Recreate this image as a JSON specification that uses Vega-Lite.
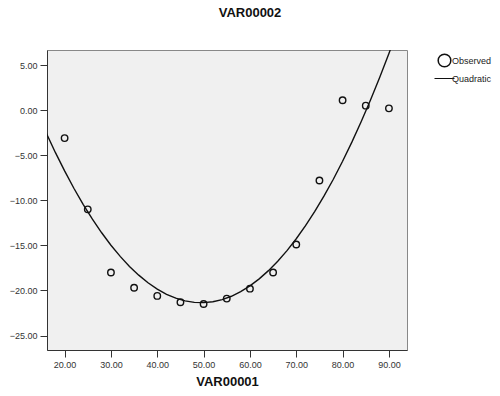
{
  "$schema": "https://vega.github.io/schema/vega-lite/v6.json",
  "width": 360,
  "height": 300,
  "autosize": {"type": "none"},
  "padding": {"left": 47, "top": 50, "right": 93, "bottom": 46},
  "background": "white",
  "title": {
    "text": "VAR00002",
    "font": "Liberation Sans",
    "fontSize": 13,
    "fontWeight": "bold",
    "color": "#111",
    "anchor": "middle",
    "dx": 23,
    "offset": 30
  },
  "config": {
    "view": {"fill": "#f0f0f0", "stroke": "#888", "strokeWidth": 1},
    "font": "Liberation Sans",
    "axis": {
      "grid": false,
      "domainColor": "#333",
      "tickColor": "#333",
      "labelColor": "#333",
      "labelFont": "Liberation Sans",
      "labelFontSize": 9,
      "tickSize": 7,
      "labelPadding": 3,
      "titleFont": "Liberation Sans",
      "titleFontSize": 13,
      "titleFontWeight": "bold",
      "titleColor": "#111"
    }
  },
  "datasets": {
    "observed": [
      {"x": 20, "y": -3.1, "series": "Observed"},
      {"x": 25, "y": -11.0, "series": "Observed"},
      {"x": 30, "y": -18.0, "series": "Observed"},
      {"x": 35, "y": -19.7, "series": "Observed"},
      {"x": 40, "y": -20.6, "series": "Observed"},
      {"x": 45, "y": -21.3, "series": "Observed"},
      {"x": 50, "y": -21.5, "series": "Observed"},
      {"x": 55, "y": -20.9, "series": "Observed"},
      {"x": 60, "y": -19.8, "series": "Observed"},
      {"x": 65, "y": -18.0, "series": "Observed"},
      {"x": 70, "y": -14.9, "series": "Observed"},
      {"x": 75, "y": -7.8, "series": "Observed"},
      {"x": 80, "y": 1.1, "series": "Observed"},
      {"x": 85, "y": 0.5, "series": "Observed"},
      {"x": 90, "y": 0.2, "series": "Observed"}
    ],
    "fit": [
      {"x": 16, "y": -2.50, "series": "Quadratic"},
      {"x": 18, "y": -4.69, "series": "Quadratic"},
      {"x": 20, "y": -6.74, "series": "Quadratic"},
      {"x": 22, "y": -8.66, "series": "Quadratic"},
      {"x": 24, "y": -10.44, "series": "Quadratic"},
      {"x": 26, "y": -12.09, "series": "Quadratic"},
      {"x": 28, "y": -13.60, "series": "Quadratic"},
      {"x": 30, "y": -14.98, "series": "Quadratic"},
      {"x": 32, "y": -16.22, "series": "Quadratic"},
      {"x": 34, "y": -17.33, "series": "Quadratic"},
      {"x": 36, "y": -18.30, "series": "Quadratic"},
      {"x": 38, "y": -19.14, "series": "Quadratic"},
      {"x": 40, "y": -19.85, "series": "Quadratic"},
      {"x": 42, "y": -20.42, "series": "Quadratic"},
      {"x": 44, "y": -20.85, "series": "Quadratic"},
      {"x": 46, "y": -21.15, "series": "Quadratic"},
      {"x": 48, "y": -21.32, "series": "Quadratic"},
      {"x": 50, "y": -21.35, "series": "Quadratic"},
      {"x": 52, "y": -21.25, "series": "Quadratic"},
      {"x": 54, "y": -21.01, "series": "Quadratic"},
      {"x": 56, "y": -20.64, "series": "Quadratic"},
      {"x": 58, "y": -20.13, "series": "Quadratic"},
      {"x": 60, "y": -19.49, "series": "Quadratic"},
      {"x": 62, "y": -18.71, "series": "Quadratic"},
      {"x": 64, "y": -17.80, "series": "Quadratic"},
      {"x": 66, "y": -16.76, "series": "Quadratic"},
      {"x": 68, "y": -15.58, "series": "Quadratic"},
      {"x": 70, "y": -14.26, "series": "Quadratic"},
      {"x": 72, "y": -12.81, "series": "Quadratic"},
      {"x": 74, "y": -11.23, "series": "Quadratic"},
      {"x": 76, "y": -9.51, "series": "Quadratic"},
      {"x": 78, "y": -7.66, "series": "Quadratic"},
      {"x": 80, "y": -5.67, "series": "Quadratic"},
      {"x": 82, "y": -3.55, "series": "Quadratic"},
      {"x": 84, "y": -1.29, "series": "Quadratic"},
      {"x": 86, "y": 1.10, "series": "Quadratic"},
      {"x": 88, "y": 3.63, "series": "Quadratic"},
      {"x": 90, "y": 6.29, "series": "Quadratic"},
      {"x": 92, "y": 9.09, "series": "Quadratic"}
    ]
  },
  "encoding": {
    "x": {
      "field": "x",
      "type": "quantitative",
      "title": "VAR00001",
      "scale": {"domain": [16.2, 93.9], "nice": false, "zero": false},
      "axis": {"values": [20, 30, 40, 50, 60, 70, 80, 90], "format": ".2f", "titlePadding": 6}
    },
    "y": {
      "field": "y",
      "type": "quantitative",
      "title": null,
      "scale": {"domain": [-26.6, 6.67], "nice": false, "zero": false},
      "axis": {"values": [-25, -20, -15, -10, -5, 0, 5], "format": ".2f"}
    },
    "color": {
      "field": "series",
      "type": "nominal",
      "scale": {"domain": ["Observed", "Quadratic"], "range": ["#111", "#111"]},
      "legend": {
        "title": null,
        "orient": "none",
        "legendX": 393,
        "legendY": 6,
        "labelFont": "Liberation Sans",
        "labelFontSize": 9,
        "labelColor": "#222",
        "labelOffset": 3,
        "rowPadding": 4,
        "encode": {
          "symbols": {
            "update": {
              "shape": {"signal": "datum.value === 'Observed' ? 'circle' : 'stroke'"},
              "size": {"signal": "datum.value === 'Observed' ? 160 : 400"},
              "strokeWidth": {"signal": "datum.value === 'Observed' ? 1.5 : 1"},
              "fill": {"value": "transparent"},
              "stroke": {"value": "#111"}
            }
          }
        }
      }
    }
  },
  "layer": [
    {
      "data": {"name": "fit"},
      "mark": {"type": "line", "clip": true, "strokeWidth": 1.4},
      "encoding": {}
    },
    {
      "data": {"name": "observed"},
      "mark": {"type": "point", "shape": "circle", "filled": false, "size": 42, "strokeWidth": 1.4, "opacity": 1},
      "encoding": {}
    }
  ]
}
